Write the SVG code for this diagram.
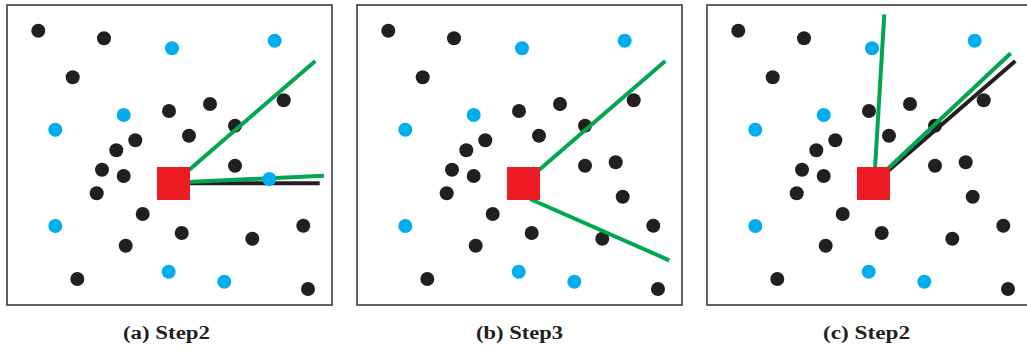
<svg xmlns="http://www.w3.org/2000/svg" xmlns:xlink="http://www.w3.org/1999/xlink" width="1027" height="349" viewBox="0 0 1027 349">
<style>
.frame{fill:#fff;stroke:#3d3d3d;stroke-width:1.6}
.k{fill:#231f20}
.b{fill:#00aeef}
.sq{fill:#ed1c24}
.g{stroke:#00a650;stroke-width:4;fill:none}
.kl{stroke:#231f20;stroke-width:4;fill:none}
.cap{font-family:"Liberation Serif","Times New Roman",serif;font-weight:bold;font-size:18px;fill:#231f20;text-anchor:middle}
</style>
<defs>
<g id="common">
<circle class="k" cx="38.3" cy="30.7" r="7"/>
<circle class="k" cx="104" cy="38.3" r="7"/>
<circle class="k" cx="72.7" cy="77.3" r="7"/>
<circle class="k" cx="169" cy="111" r="7"/>
<circle class="k" cx="210" cy="104" r="7"/>
<circle class="k" cx="283.7" cy="100.3" r="7"/>
<circle class="k" cx="235" cy="125.7" r="7"/>
<circle class="k" cx="189" cy="135.7" r="7"/>
<circle class="k" cx="135.3" cy="140.3" r="7"/>
<circle class="k" cx="116.3" cy="150.3" r="7"/>
<circle class="k" cx="102" cy="169.7" r="7"/>
<circle class="k" cx="123.7" cy="176" r="7"/>
<circle class="k" cx="96.7" cy="193.3" r="7"/>
<circle class="k" cx="235" cy="165.7" r="7"/>
<circle class="k" cx="142.7" cy="214" r="7"/>
<circle class="k" cx="181.7" cy="233" r="7"/>
<circle class="k" cx="125.7" cy="245.7" r="7"/>
<circle class="k" cx="252.3" cy="238.7" r="7"/>
<circle class="k" cx="303.3" cy="225.7" r="7"/>
<circle class="k" cx="77.3" cy="279" r="7"/>
<circle class="k" cx="308" cy="289" r="7"/>
<circle class="b" cx="172" cy="48.3" r="7"/>
<circle class="b" cx="274.7" cy="40.7" r="7"/>
<circle class="b" cx="123.7" cy="115" r="7"/>
<circle class="b" cx="55.3" cy="129.7" r="7"/>
<circle class="b" cx="55.3" cy="226" r="7"/>
<circle class="b" cx="168.7" cy="271.7" r="7"/>
<circle class="b" cx="224.3" cy="281.7" r="7"/>
</g>
<g id="extra">
<circle class="k" cx="265.7" cy="162.3" r="7"/>
<circle class="k" cx="272.7" cy="196.7" r="7"/>
</g>
</defs>

<g id="panel-a">
<rect class="frame" x="7" y="5" width="325" height="300"/>
<use xlink:href="#common" href="#common"/>
<g id="connectors-a">
<line class="kl" x1="188" y1="183.3" x2="319.7" y2="183.3"/>
<line class="g" x1="188" y1="182" x2="324" y2="175.7"/>
<line class="g" x1="189" y1="170" x2="315.3" y2="61"/>
</g>
<circle class="b" cx="269.3" cy="179" r="7"/>
<rect id="robot-a" class="sq" x="157" y="167" width="33" height="33"/>
</g>

<g id="panel-b" transform="translate(350,0)">
<rect class="frame" x="7" y="5" width="325" height="300"/>
<use xlink:href="#common" href="#common"/>
<use xlink:href="#extra" href="#extra"/>
<g id="connectors-b">
<line class="g" x1="189" y1="170" x2="315.3" y2="61"/>
<line class="g" x1="180" y1="199" x2="319.3" y2="260.3"/>
</g>
<rect id="robot-b" class="sq" x="157" y="167" width="33" height="33"/>
</g>

<g id="panel-c" transform="translate(700,0)">
<rect class="frame" x="7" y="5" width="340" height="300"/>
<use xlink:href="#common" href="#common"/>
<use xlink:href="#extra" href="#extra"/>
<g id="connectors-c">
<line class="kl" x1="188.3" y1="170.7" x2="315.3" y2="61"/>
<line class="g" x1="188.3" y1="168.3" x2="310.7" y2="53.3"/>
<line class="g" x1="175" y1="168.3" x2="184.3" y2="14.3"/>
</g>
<rect id="robot-c" class="sq" x="157" y="167" width="33" height="33"/>
</g>

<g id="captions">
<text class="cap" x="166.5" y="339" textLength="87" lengthAdjust="spacingAndGlyphs">(a) Step2</text>
<text class="cap" x="519.5" y="339" textLength="87" lengthAdjust="spacingAndGlyphs">(b) Step3</text>
<text class="cap" x="866.5" y="339" textLength="87" lengthAdjust="spacingAndGlyphs">(c) Step2</text>
</g>
</svg>
